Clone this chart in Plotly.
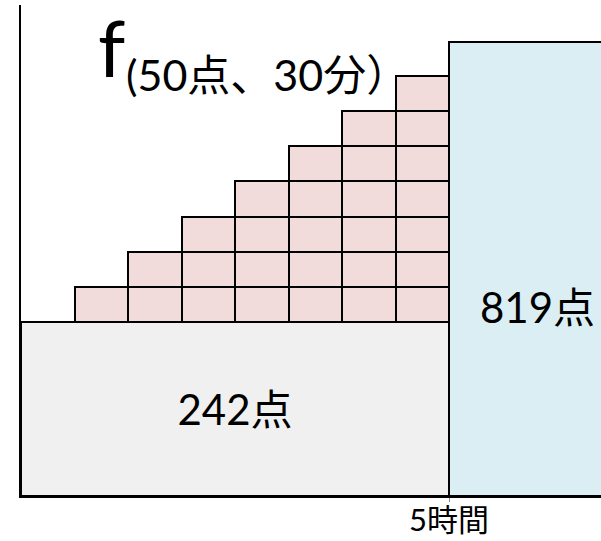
import plotly.graph_objects as go

# --- data ---
step_counts = [1, 2, 3, 4, 5, 6, 7]        # stacked 30-min cells per column
column_pos = [1.5, 2.5, 3.5, 4.5, 5.5, 6.5, 7.5]  # centres of the columns (cell units)
base_height = 4.95                          # height of the 242点 block (cell units)
bonus_height = 12.92                        # height of the 819点 block
base_label = "242点"
bonus_label = "819点"
time_tick_value = [8]
time_tick_text = ["5時間"]
title_big = "f"
title_small = "(50点、30分）"

FONT = "Lato, 'Noto Sans CJK JP', sans-serif"

cell_x, cell_base = [], []
for cx, n in zip(column_pos, step_counts):
    for k in range(n):
        cell_x.append(cx)
        cell_base.append(base_height + k)

fig = go.Figure()

fig.add_trace(go.Bar(
    x=[4], y=[base_height], base=[0], width=[8],
    marker=dict(color="#f0f0f0", line=dict(color="black", width=2)),
    text=[base_label], textposition="inside", insidetextanchor="middle",
    textfont=dict(family=FONT, size=42, color="black"),
    hoverinfo="skip", showlegend=False,
))
fig.add_trace(go.Bar(
    x=cell_x, y=[1] * len(cell_x), base=cell_base, width=1,
    marker=dict(color="#f2dcdb", line=dict(color="black", width=2)),
    hoverinfo="skip", showlegend=False,
))
fig.add_trace(go.Bar(
    x=[10], y=[bonus_height], base=[0], width=[4],
    marker=dict(color="#dbeef4", line=dict(color="black", width=2)),
    hoverinfo="skip", showlegend=False,
))

fig.add_annotation(x=(537 - 21) / 580, y=(496 - 307) / 491, xref="paper", yref="paper",
                   xanchor="center", yanchor="middle",
                   text=bonus_label, showarrow=False,
                   font=dict(family=FONT, size=42, color="black"))
fig.add_annotation(x=(96 - 21) / 580, y=(496 - 47) / 491, xref="paper", yref="paper",
                   xanchor="left", yanchor="middle", text=title_big, showarrow=False,
                   font=dict(family=FONT, size=78, color="black"))
fig.add_annotation(x=(124 - 21) / 580, y=(496 - 74) / 491, xref="paper", yref="paper",
                   xanchor="left", yanchor="middle", text=title_small, showarrow=False,
                   font=dict(family=FONT, size=43, color="black"))

fig.update_layout(
    width=601, height=541,
    margin=dict(l=21, r=0, t=5, b=45),
    paper_bgcolor="white", plot_bgcolor="white",
    barmode="overlay", bargap=0,
    xaxis=dict(range=[0, 10.84], showgrid=False, zeroline=False, automargin=False,
               showline=True, linecolor="black", linewidth=2,
               tickvals=time_tick_value, ticktext=time_tick_text,
               ticks="outside", ticklen=4, tickcolor="#888", tickwidth=1,
               ticklabelstandoff=-8,
               tickfont=dict(family=FONT, size=31, color="black")),
    yaxis=dict(range=[0, 13.97], showgrid=False, zeroline=False, automargin=False,
               showline=True, linecolor="black", linewidth=2,
               showticklabels=False, ticks=""),
)

fig.write_html("out.html", config={"displayModeBar": False},
               post_script="document.body.style.margin='0px';")
